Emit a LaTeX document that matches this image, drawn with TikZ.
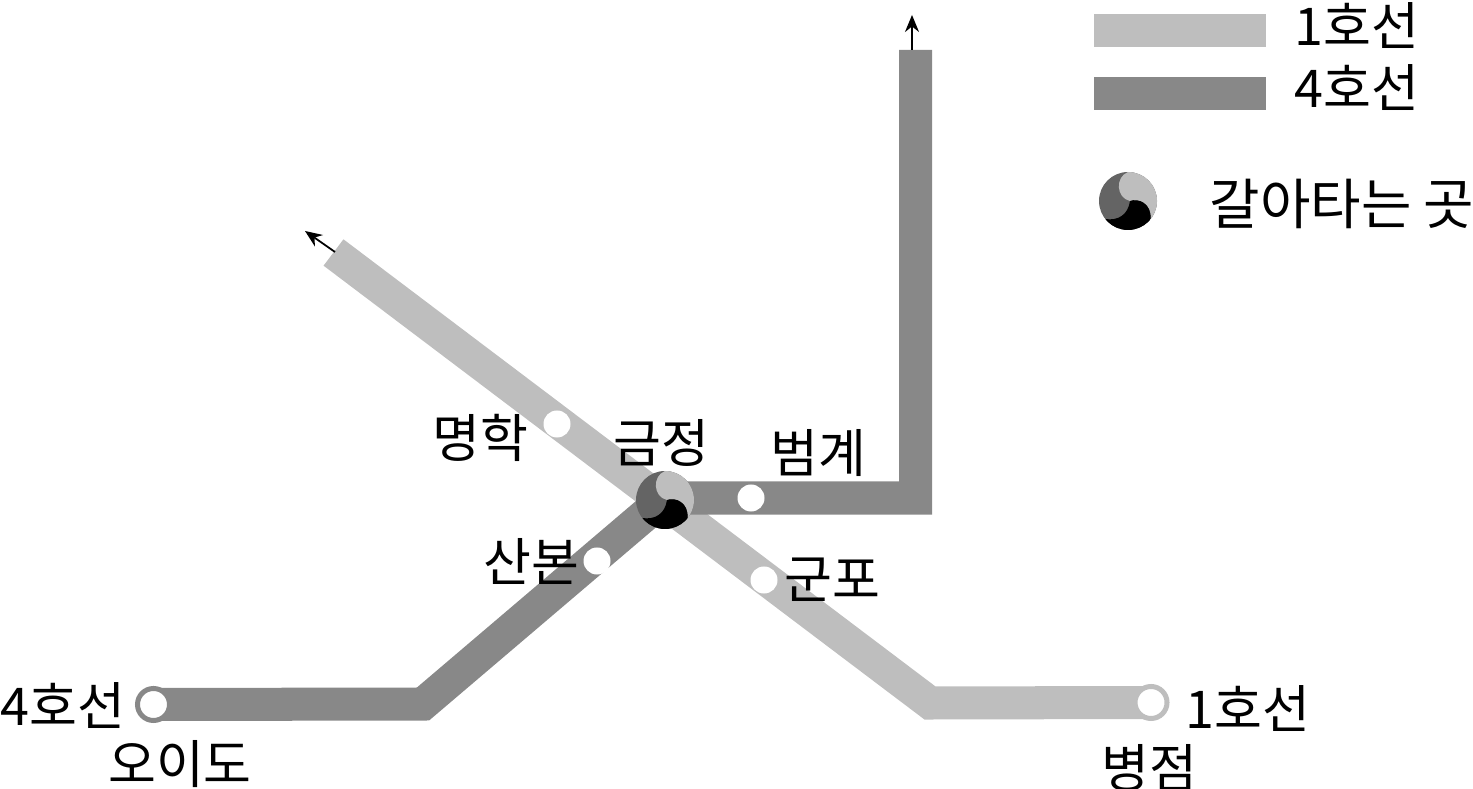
\documentclass[tikz,border=0pt]{standalone}
\usepackage{fontspec}
\setmainfont{Noto Sans CJK KR}
\usetikzlibrary{arrows.meta, positioning, backgrounds}
\definecolor{lineone}{HTML}{BEBEBE}
\definecolor{linefour}{HTML}{888888}
\definecolor{swirlmid}{HTML}{646464}
\begin{document}
\begin{tikzpicture}[
        x=0.01cm, y=-0.01cm,
        every node/.style={align=center, inner sep=0pt, outer sep=0pt},
        % ===== Estilos =====
        oneline/.style={draw=lineone, line width=0.33cm, line join=miter},
        fourline/.style={draw=linefour, line width=0.33cm, line join=miter},
        stationdot/.style={circle, fill=white, minimum size=0.27cm},
        endone/.style={stationdot, draw=lineone, line width=0.05cm, minimum size=0.32cm},
        endfour/.style={stationdot, draw=linefour, line width=0.05cm, minimum size=0.32cm},
        maplabel/.style={font=\fontsize{14.8pt}{17pt}\selectfont, text=black},
        keylabel/.style={font=\fontsize{15.6pt}{18pt}\selectfont, text=black},
        exitarrow/.style={-{Stealth[length=1.7mm,width=1.4mm]}, draw=black, line width=0.5pt},
        swirl/.pic={
            \fill[swirlmid] (0,0) circle[radius=29];
            \begin{scope}
                \clip (0,0) circle[radius=29];
                \fill[lineone] (0,-29) .. controls (-13,-24) and (-12,-3) .. (2,0)
                    .. controls (10,-3) and (24,2) .. (22.5,18.5) -- (45,25) -- (45,-45) -- (0,-45) -- cycle;
                \fill[black] (-23,18) .. controls (-10,20) and (0,14) .. (2,0)
                    .. controls (10,-3) and (24,2) .. (22.5,18.5) -- (35,45) -- (-35,45) -- cycle;
            \end{scope}
        }
    ]
        \useasboundingbox (0,0) rectangle (1473,789);

        % ===== Stations =====
        \node[endfour] (oido) at (153.5,704.5) {};
        \node[endone] (byeongjeom) at (1151,702.5) {};
        \coordinate (fourbend) at (423,704);
        \coordinate (fourcross) at (665,498);
        \coordinate (fourcorner) at (915.5,498);
        \coordinate (fourtop) at (915.5,50);
        \coordinate (onetop) at (333.5,252.5);
        \coordinate (onebend) at (930,703);
        \coordinate (fourtip) at (912,15);
        \coordinate (fourtail) at (912,50);
        \coordinate (onetip) at (305,231);
        \coordinate (onetail) at (335,252);

        \foreach \name/\xc/\yc in {%
            myeonghak/557/424,
            beomgye/751/498,
            sanbon/597/561,
            gunpo/764/580%
        }{
            \node[stationdot] (\name) at (\xc,\yc) {};
        }

        % ===== Lines =====
        \begin{scope}[on background layer]
            \draw[oneline] (onetop) -- (onebend) -- (byeongjeom.center);
            \draw[fourline] (oido.center) -- (fourbend) -- (fourcross) -- (fourcorner) -- (fourtop);
        \end{scope}
        \pic (geumjeong) at (665,500) {swirl};

        % ===== Arrows =====
        \draw[exitarrow] (fourtail) -- (fourtip);
        \draw[exitarrow] (onetail) -- (onetip);

        % ===== Labels =====
        \foreach \name/\xc/\yc/\txt in {%
            lfour/63/706/4호선,
            lone/1248/709/1호선,
            loido/180/764/오이도,
            lbyeong/1149/768/병점,
            lmyeong/480/438/명학,
            lgeum/661/443/금정,
            lbeom/818/453/범계,
            lsan/531/561/산본,
            lgun/832/580/군포%
        }{
            \node[maplabel] (\name) at (\xc,\yc) {\txt};
        }

        % ===== Legend =====
        \node[fill=lineone, minimum width=1.72cm, minimum height=0.33cm] (keyone) at (1180,30.5) {};
        \node[fill=linefour, minimum width=1.72cm, minimum height=0.33cm] (keyfour) at (1180,93.5) {};
        \node[maplabel] (keyonetext) at (1357,26) {1호선};
        \node[maplabel] (keyfourtext) at (1357,88) {4호선};
        \pic (keyswirl) at (1128,201) {swirl};
        \node[keylabel] (keyswirltext) at (1342,204) {갈아타는 곳};
\end{tikzpicture}
\end{document}
